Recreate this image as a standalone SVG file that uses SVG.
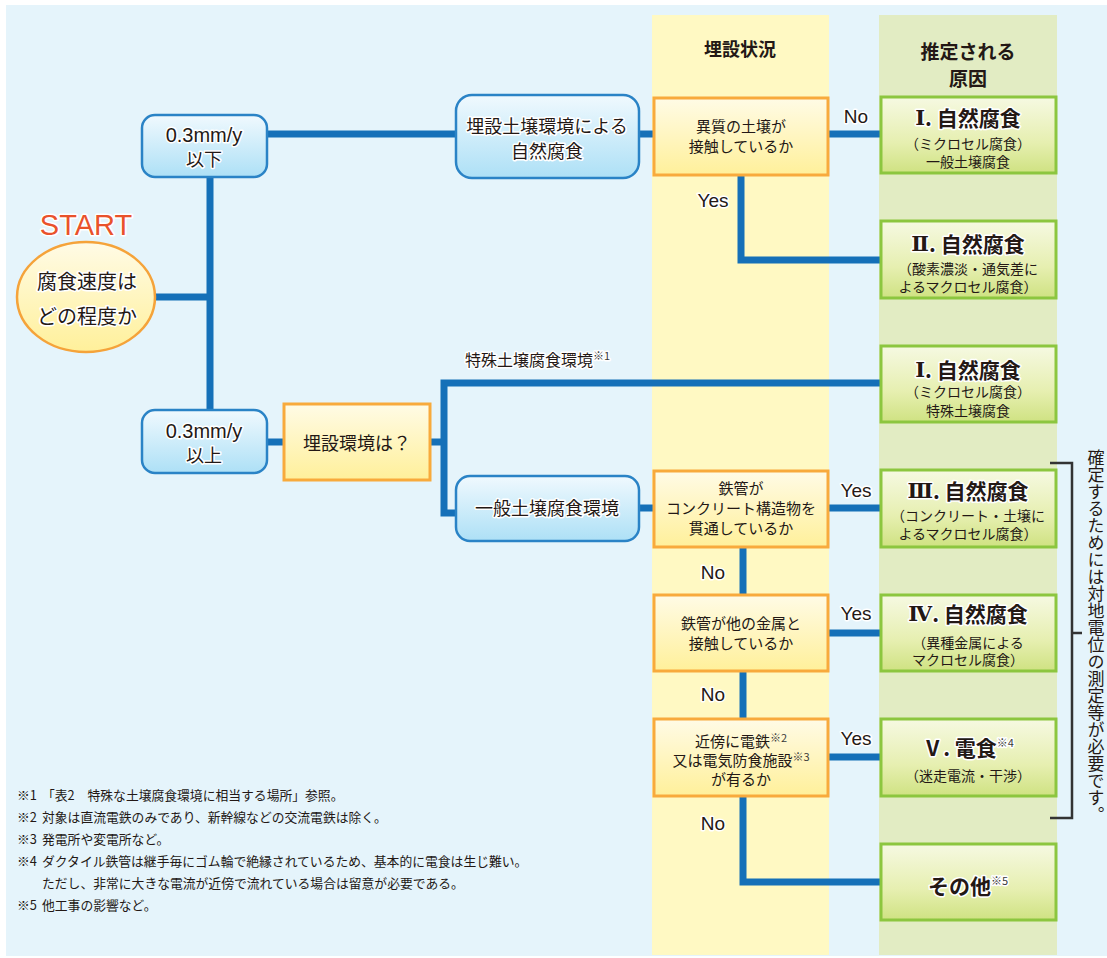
<svg xmlns="http://www.w3.org/2000/svg" width="1107" height="958" viewBox="0 0 1107 958">
<defs>
<linearGradient id="gBlue" x1="0" y1="0" x2="0" y2="1"><stop offset="0" stop-color="#f0f9fe"/><stop offset="1" stop-color="#ade0f6"/></linearGradient>
<linearGradient id="gOrange" x1="0" y1="0" x2="0" y2="1"><stop offset="0" stop-color="#fffbe6"/><stop offset="1" stop-color="#fff09a"/></linearGradient>
<linearGradient id="gGreen" x1="0" y1="0" x2="0" y2="1"><stop offset="0" stop-color="#f6f9e2"/><stop offset="0.6" stop-color="#e6efb0"/><stop offset="1" stop-color="#cfe282"/></linearGradient>
<linearGradient id="gStart" x1="0" y1="0" x2="0" y2="1"><stop offset="0" stop-color="#fffbe6"/><stop offset="1" stop-color="#fff09a"/></linearGradient>
<style>
.t{font-family:"Noto Sans CJK JP","Noto Sans",sans-serif;fill:#231815;text-anchor:middle;dominant-baseline:central}
.l{font-family:"Liberation Sans","Noto Sans CJK JP",sans-serif}
.halo{stroke:#ffffff;stroke-width:3;paint-order:stroke;stroke-linejoin:round}
.bb{fill:url(#gBlue);stroke:#2a83c6;stroke-width:2.5}
.ob{fill:url(#gOrange);stroke:#f8aa3c;stroke-width:3}
.gb{fill:url(#gGreen);stroke:#8cc63f;stroke-width:3}
.con{fill:none;stroke:#1570b8;stroke-width:7;stroke-linejoin:miter}
.s{font-size:15px}
.m{font-size:18px}
.ttl{font-size:21px;font-weight:bold}
.rn{font-family:"DejaVu Serif","Liberation Serif",serif}
.sub{font-size:14px}
.fn{font-family:"Noto Sans CJK JP",sans-serif;font-size:12.8px;fill:#231815}
.sup{font-size:11px;fill:#3a3a3a}
</style>
</defs>
<rect x="0" y="0" width="1107" height="958" fill="#ffffff"/>
<rect x="6" y="5" width="1101" height="951" fill="#e5f4fb"/>
<rect x="652" y="15" width="177" height="940" fill="#fff9c3"/>
<rect x="879" y="15" width="178" height="940" fill="#e2ecc3"/>
<text class="t" x="740" y="48" style="font-size:18px;font-weight:bold">埋設状況</text>
<text class="t" x="968" y="50" style="font-size:19px;font-weight:bold">推定される</text>
<text class="t" x="968" y="77" style="font-size:19px;font-weight:bold">原因</text>

<g id="connectors">
<polyline class="con" points="156,297 210,297"/>
<polyline class="con" points="210,177 210,410"/>
<polyline class="con" points="266,134 456,134"/>
<polyline class="con" points="639,134 653,134"/>
<polyline class="con" points="828,134 880,134"/>
<polyline class="con" points="741,175 741,260 880,260"/>
<polyline class="con" points="266,442 283,442"/>
<polyline class="con" points="430,442 444,442"/>
<polyline class="con" points="880,383 444,383 444,513 456,513"/>
<polyline class="con" points="639,508 653,508"/>
<polyline class="con" points="828,508 880,508"/>
<polyline class="con" points="743,547 743,595"/>
<polyline class="con" points="828,633 880,633"/>
<polyline class="con" points="743,671 743,719"/>
<polyline class="con" points="828,757 880,757"/>
<polyline class="con" points="743,796 743,882 880,882"/>
<text class="t l halo" x="856" y="116" style="font-size:19px">No</text>
<text class="t l halo" x="713" y="200" style="font-size:19px">Yes</text>
<text class="t l halo" x="856" y="490" style="font-size:19px">Yes</text>
<text class="t l halo" x="713" y="572" style="font-size:19px">No</text>
<text class="t l halo" x="856" y="613" style="font-size:19px">Yes</text>
<text class="t l halo" x="713" y="694" style="font-size:19px">No</text>
<text class="t l halo" x="856" y="738" style="font-size:19px">Yes</text>
<text class="t l halo" x="713" y="823" style="font-size:19px">No</text>
<text class="t halo" x="465" y="359" style="font-size:16px;text-anchor:start">特殊土壌腐食環境<tspan class="sup" dy="-4">※1</tspan></text>
</g>

<g id="start">
<text class="t l halo" x="86" y="225" style="font-size:29px;fill:#e9522b">START</text>
<ellipse cx="86" cy="297" rx="69" ry="55" fill="url(#gStart)" stroke="#f5a33a" stroke-width="2.5"/>
<text class="t halo" x="87" y="280" style="font-size:20px">腐食速度は</text>
<text class="t halo" x="87" y="315" style="font-size:20px">どの程度か</text>
</g>

<g id="n-le">
<rect class="bb" x="142" y="115" width="125" height="62" rx="13"/>
<text class="t l halo" x="204" y="135" style="font-size:20px">0.3mm/y</text>
<text class="t halo m" x="204" y="158">以下</text>
</g>
<g id="n-ge">
<rect class="bb" x="142" y="410" width="125" height="63" rx="13"/>
<text class="t l halo" x="204" y="431" style="font-size:20px">0.3mm/y</text>
<text class="t halo m" x="204" y="454">以上</text>
</g>
<g id="n-soil">
<rect class="bb" x="456" y="95" width="183" height="83" rx="16"/>
<text class="t halo" x="547" y="125" style="font-size:18px">埋設土壌環境による</text>
<text class="t halo" x="547" y="150" style="font-size:18px">自然腐食</text>
</g>
<g id="n-diff">
<rect class="ob" x="654" y="98" width="174" height="77"/>
<text class="t s" x="741" y="125">異質の土壌が</text>
<text class="t s" x="741" y="145">接触しているか</text>
</g>
<g id="n-env">
<rect class="ob" x="284" y="404" width="146" height="76"/>
<text class="t m" x="357" y="442">埋設環境は？</text>
</g>
<g id="n-general">
<rect class="bb" x="456" y="476" width="183" height="65" rx="14"/>
<text class="t halo" x="547" y="507" style="font-size:18px">一般土壌腐食環境</text>
</g>
<g id="n-conc">
<rect class="ob" x="654" y="471" width="174" height="76"/>
<text class="t s" x="741" y="487">鉄管が</text>
<text class="t s" x="741" y="507">コンクリート構造物を</text>
<text class="t s" x="741" y="527">貫通しているか</text>
</g>
<g id="n-metal">
<rect class="ob" x="654" y="595" width="174" height="76"/>
<text class="t s" x="741" y="622">鉄管が他の金属と</text>
<text class="t s" x="741" y="642">接触しているか</text>
</g>
<g id="n-rail">
<rect class="ob" x="654" y="719" width="174" height="77"/>
<text class="t s" x="741" y="740">近傍に電鉄<tspan class="sup" dy="-3">※2</tspan></text>
<text class="t s" x="741" y="759">又は電気防食施設<tspan class="sup" dy="-3">※3</tspan></text>
<text class="t s" x="741" y="778">が有るか</text>
</g>

<g id="r1">
<rect class="gb" x="881" y="97" width="175" height="76"/>
<text class="t halo ttl" x="968" y="117"><tspan class="rn">Ⅰ</tspan>. 自然腐食</text>
<text class="t sub" x="968" y="143">（ミクロセル腐食）</text>
<text class="t sub" x="968" y="161">一般土壌腐食</text>
</g>
<g id="r2">
<rect class="gb" x="881" y="221" width="175" height="77"/>
<text class="t halo ttl" x="968" y="243"><tspan class="rn">Ⅱ</tspan>. 自然腐食</text>
<text class="t sub" x="968" y="268">（酸素濃淡・通気差に</text>
<text class="t sub" x="968" y="286">よるマクロセル腐食）</text>
</g>
<g id="r1b">
<rect class="gb" x="881" y="346" width="175" height="76"/>
<text class="t halo ttl" x="968" y="369"><tspan class="rn">Ⅰ</tspan>. 自然腐食</text>
<text class="t sub" x="968" y="391">（ミクロセル腐食）</text>
<text class="t sub" x="968" y="410">特殊土壌腐食</text>
</g>
<g id="r3">
<rect class="gb" x="881" y="470" width="175" height="77"/>
<text class="t halo ttl" x="968" y="490"><tspan class="rn">Ⅲ</tspan>. 自然腐食</text>
<text class="t sub" x="968" y="515">（コンクリート・土壌に</text>
<text class="t sub" x="968" y="533">よるマクロセル腐食）</text>
</g>
<g id="r4">
<rect class="gb" x="881" y="595" width="175" height="76"/>
<text class="t halo ttl" x="968" y="613"><tspan class="rn">Ⅳ</tspan>. 自然腐食</text>
<text class="t sub" x="968" y="642">（異種金属による</text>
<text class="t sub" x="968" y="659">マクロセル腐食）</text>
</g>
<g id="r5">
<rect class="gb" x="881" y="719" width="175" height="77"/>
<text class="t halo ttl" x="968" y="747">Ⅴ. 電食<tspan class="sup" dy="-5" style="font-weight:normal">※4</tspan></text>
<text class="t sub" x="968" y="775">（迷走電流・干渉）</text>
</g>
<g id="r6">
<rect class="gb" x="881" y="844" width="175" height="76"/>
<text class="t halo ttl" x="968" y="885">その他<tspan class="sup" dy="-5" style="font-weight:normal">※5</tspan></text>
</g>

<g id="bracket">
<polyline points="1050,463 1072,463 1072,818 1050,818" fill="none" stroke="#333333" stroke-width="2.5"/>
<line x1="1072" y1="633" x2="1082" y2="633" stroke="#333333" stroke-width="2.5"/>
<text x="1096" y="449" style="font-family:'Noto Sans CJK JP',sans-serif;font-size:17px;fill:#231815;writing-mode:vertical-rl">確定するためには対地電位の測定等が必要です。</text>
</g>

<g id="footnotes">
<text class="fn" x="17" y="800">※1</text><text class="fn" x="42" y="800">「表2　特殊な土壌腐食環境に相当する場所」参照。</text>
<text class="fn" x="17" y="822">※2</text><text class="fn" x="42" y="822">対象は直流電鉄のみであり、新幹線などの交流電鉄は除く。</text>
<text class="fn" x="17" y="844">※3</text><text class="fn" x="42" y="844">発電所や変電所など。</text>
<text class="fn" x="17" y="866">※4</text><text class="fn" x="42" y="866">ダクタイル鉄管は継手毎にゴム輪で絶縁されているため、基本的に電食は生じ難い。</text>
<text class="fn" x="42" y="888">ただし、非常に大きな電流が近傍で流れている場合は留意が必要である。</text>
<text class="fn" x="17" y="910">※5</text><text class="fn" x="42" y="910">他工事の影響など。</text>
</g>
</svg>
